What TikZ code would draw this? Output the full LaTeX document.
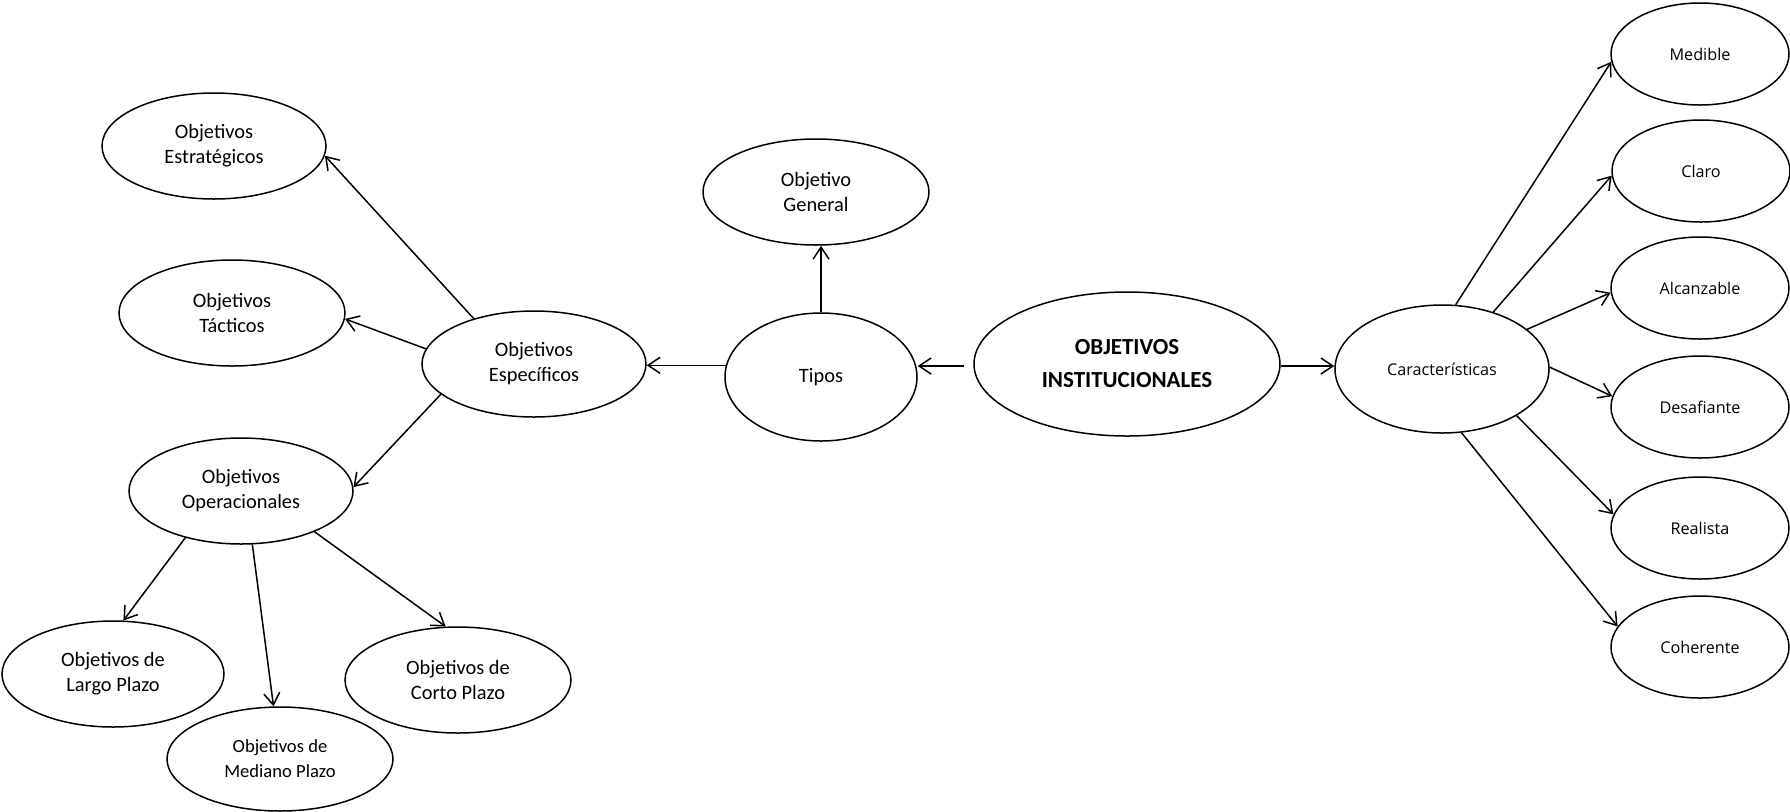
\documentclass[tikz,border=0pt]{standalone}
\usepackage{fontspec}
\setmainfont{Carlito}
\newfontfamily\uifont{Open Sans}
\usetikzlibrary{shapes.geometric,arrows.meta}

\begin{document}
\begin{tikzpicture}[x=0.5pt,y=-0.5pt,
  oval/.style={ellipse,draw,line width=0.75pt,inner sep=0pt,align=center,
    minimum width=112pt,minimum height=53pt,
    font=\fontsize{10.2}{12.5}\selectfont},
  smalltext/.style={font=\fontsize{9.3}{12.5}\selectfont},
  trait/.style={oval,minimum width=89pt,minimum height=51pt,
    font=\uifont\fontsize{8.1}{10}\selectfont},
  arr/.style={line width=0.75pt,-{Straight Barb[length=6pt,width=8pt]}}]

\useasboundingbox (0,0) rectangle (1790,811);

% central concept
\node[oval,minimum width=153pt,minimum height=72pt,
  font=\bfseries\fontsize{11.5}{16.5}\selectfont] (inst) at (1127,364)
  {OBJETIVOS\\INSTITUCIONALES};

% types branch
\node[oval,minimum width=96pt,minimum height=64pt] (tipos) at (821,377) {Tipos};
\node[oval,minimum width=113pt] (gen) at (816,192) {Objetivo\\General};
\node[oval] (esp) at (534,364) {Objetivos\\Específicos};
\node[oval] (estr) at (214,146) {Objetivos\\Estratégicos};
\node[oval,minimum width=113pt] (tac) at (232,313) {Objetivos\\Tácticos};
\node[oval] (oper) at (241,491) {Objetivos\\Operacionales};
\node[oval,minimum width=111pt] (largo) at (113,674) {Objetivos de\\Largo Plazo};
\node[oval,smalltext,minimum width=113pt,minimum height=52pt] (mediano) at (280,759)
  {Objetivos de\\Mediano Plazo};
\node[oval,minimum width=113pt] (corto) at (458,680) {Objetivos de\\Corto Plazo};

% characteristics branch
\node[oval,minimum width=107pt,minimum height=64pt,
  font=\uifont\fontsize{8.1}{10}\selectfont] (car) at (1442,369) {Características};
\node[trait] (med) at (1700,54) {Medible};
\node[trait] (cla) at (1701,171) {Claro};
\node[trait] (alc) at (1700,288) {Alcanzable};
\node[trait] (des) at (1700,407) {Desafiante};
\node[trait] (rea) at (1700,528) {Realista};
\node[trait] (coh) at (1700,647) {Coherente};

% connectors
\draw[arr] ([xshift=-4.5pt]inst.west |- 0,366) -- (tipos.east |- 0,366);
\draw[arr] (inst.east |- 0,366) -- (car.west |- 0,366);
\draw[arr] (tipos.north) -- (tipos.north |- gen.south);
\draw[arr] (tipos.173) -- (tipos.173 -| esp.east);

\draw[arr] (esp.143) -- (estr.-5.6);
\draw[arr] (esp.172.8) -- (tac.-3);
\draw[arr] (esp.-162.6) -- (oper.2.5);

\draw[arr] (oper.220.7) -- (largo.79);
\draw[arr] (oper.-78.3) -- (mediano.97.5);
\draw[arr] (oper.-29.2) -- (corto.103);

\draw[arr] (car.78.5) -- (med.185.9);
\draw[arr] (car.48.2) -- (cla.183.9);
\draw[arr] (car.25.2) -- (alc.183.3);
\draw[arr] (car.1) -- (des.173.4);
\draw[arr] (car.-32.3) -- (rea.171.6);
\draw[arr] (car.-73.1) -- (coh.166);
\end{tikzpicture}
\end{document}
